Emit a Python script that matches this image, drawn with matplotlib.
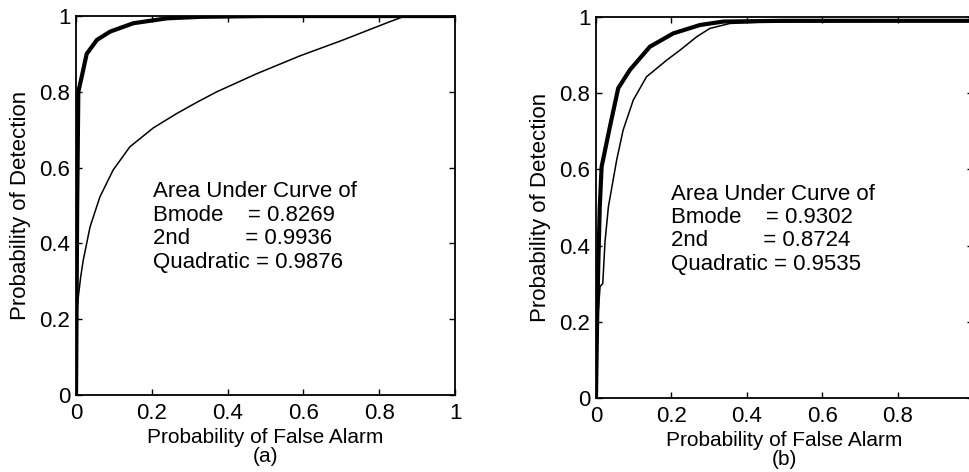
import numpy as np
import matplotlib.pyplot as plt

# ==== DATOS ====
# panel (a)
a_thin_x = [0.0, 0.0, 0.006, 0.012, 0.019, 0.037, 0.063, 0.098, 0.142, 0.204, 0.266, 0.318, 0.371,
            0.477, 0.591, 0.705, 0.82, 0.86, 0.9, 1.0]
a_thin_y = [0.0, 0.2, 0.259, 0.31, 0.356, 0.444, 0.523, 0.594, 0.655, 0.705, 0.743, 0.772, 0.8,
            0.848, 0.895, 0.937, 0.982, 0.997, 1.0, 1.0]
a_thick_x = [0.0, 0.003, 0.006, 0.015, 0.028, 0.055, 0.09, 0.151, 0.24, 0.33, 0.5, 1.0]
a_thick_y = [0.0, 0.5, 0.8, 0.84, 0.9, 0.937, 0.959, 0.981, 0.994, 0.998, 1.0, 1.0]
a_labels = ["Area Under Curve of", "Bmode    = 0.8269", "2nd         = 0.9936", "Quadratic = 0.9876"]

# panel (b)
b_thick_x = [0.0, 0.003, 0.006, 0.01, 0.015, 0.037, 0.059, 0.09, 0.143, 0.205, 0.276, 0.338, 0.5, 1.0]
b_thick_y = [0.0, 0.2, 0.345, 0.5, 0.607, 0.712, 0.813, 0.861, 0.922, 0.957, 0.979, 0.988, 0.99, 0.99]
b_thin_x = [0.0, 0.004, 0.011, 0.018, 0.024, 0.033, 0.055, 0.072, 0.099, 0.134, 0.188, 0.223, 0.267,
            0.302, 0.355, 0.45, 1.0]
b_thin_y = [0.0, 0.2, 0.293, 0.3, 0.41, 0.502, 0.625, 0.703, 0.782, 0.843, 0.887, 0.913, 0.948,
            0.97, 0.983, 0.987, 0.99]
b_labels = ["Area Under Curve of", "Bmode    = 0.9302", "2nd         = 0.8724", "Quadratic = 0.9535"]

TICKS = [0, 0.2, 0.4, 0.6, 0.8, 1]
TICK_LABELS = ["0", "0.2", "0.4", "0.6", "0.8", "1"]
# =====================================

plt.rcParams['font.family'] = ['Liberation Sans', 'DejaVu Sans']

fig = plt.figure(figsize=(9.7, 4.72), dpi=100)
ax1 = fig.add_axes([0.0784, 0.163, 0.3907, 0.803])
ax2 = fig.add_axes([0.6144, 0.157, 0.3887, 0.807])


def style_axes(ax, panel, xlabels):
    ax.set_xlim(0, 1)
    ax.set_ylim(0, 1)
    ax.set_xticks(TICKS)
    ax.set_xticklabels(xlabels)
    ax.set_yticks(TICKS)
    ax.set_yticklabels(TICK_LABELS)
    ax.tick_params(direction='in', length=4, width=1, top=True, right=True,
                   labelsize=16, pad=6)
    ax.tick_params(axis='y', pad=4)
    for s in ax.spines.values():
        s.set_linewidth(1.3)
    ax.set_ylabel('Probability of Detection', fontsize=16)
    ax.yaxis.set_label_coords(-0.118, 0.5)
    ax.set_xlabel('Probability of False Alarm', fontsize=15)
    ax.xaxis.set_label_coords(0.5, -0.088)
    ax.text(0.5, -0.163, panel, transform=ax.transAxes, ha='center', va='center', fontsize=15)


ax1.plot(a_thin_x, a_thin_y, color='black', lw=1.1)
ax1.plot(a_thick_x, a_thick_y, color='black', lw=3.0, solid_capstyle='butt')
style_axes(ax1, '(a)', TICK_LABELS)
for i, s in enumerate(a_labels):
    ax1.text(0.203, 0.522 - i * 0.062, s, fontsize=16, ha='left', va='baseline')

ax2.plot(b_thin_x, b_thin_y, color='black', lw=1.1)
ax2.plot(b_thick_x, b_thick_y, color='black', lw=3.0, solid_capstyle='butt')
# the "1" tick label on panel (b) falls outside the page
style_axes(ax2, '(b)', TICK_LABELS[:-1] + [""])
for i, s in enumerate(b_labels):
    ax2.text(0.2, 0.52 - i * 0.061, s, fontsize=16, ha='left', va='baseline')

fig.savefig('out.png', dpi=100)
